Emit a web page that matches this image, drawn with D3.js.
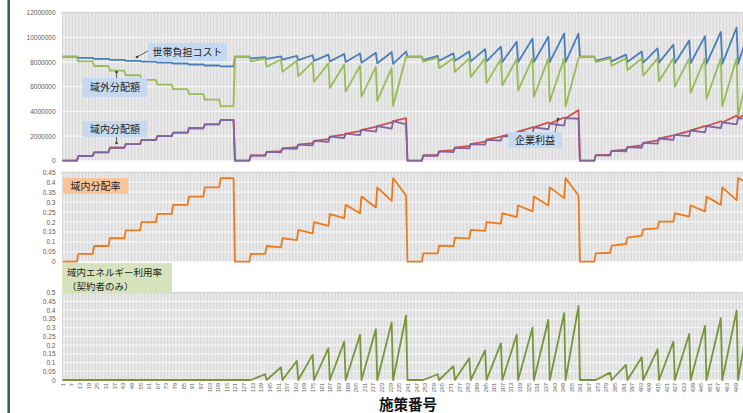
<!DOCTYPE html>
<html>
<head>
<meta charset="utf-8">
<script src="https://cdn.jsdelivr.net/npm/d3@7"></script>
<style>
body { margin: 0; background: #fff; }
svg { display: block; }
</style>
</head>
<body>
<div id="chart"></div>
<script>
// [施策番号, 値] breakpoints
var householdCost = [
  [1,8.43e6],[11,8.43e6],[12,8.33e6],[22,8.33e6],[23,8.26e6],[33,8.26e6],[34,8.18e6],[44,8.18e6],[45,8.1e6],[55,8.1e6],[56,8.03e6],[66,8.03e6],[67,7.95e6],[77,7.95e6],[78,7.88e6],[88,7.88e6],[89,7.8e6],[99,7.8e6],[100,7.72e6],[110,7.72e6],[111,7.65e6],[120,7.65e6],
  [121,8.43e6],[131,8.43e6],[132,8.3e6],[142,8.4e6],[143,8.25e6],[153,8.45e6],[154,8.2e6],[164,8.5e6],[165,8.15e6],[175,8.55e6],[176,8.1e6],[186,8.6e6],[187,8.05e6],[197,8.65e6],[198,8.0e6],[208,8.7e6],[209,7.95e6],[219,8.75e6],[220,7.9e6],[230,8.8e6],[231,7.85e6],[240,8.85e6],
  [241,8.43e6],[251,8.43e6],[252,8.15e6],[262,8.5e6],[263,8.1e6],[273,8.7e6],[274,8.1e6],[284,8.85e6],[285,8.05e6],[295,9.05e6],[296,8.05e6],[306,9.24e6],[307,8.0e6],[317,9.65e6],[318,8.0e6],[328,9.9e6],[329,8.0e6],[339,10.05e6],[340,8.0e6],[350,10.3e6],[351,8.0e6],[360,10.3e6],
  [361,8.43e6],[371,8.43e6],[372,8.1e6],[382,8.4e6],[383,8.05e6],[393,8.6e6],[394,8.0e6],[404,8.85e6],[405,7.95e6],[415,9.1e6],[416,7.95e6],[426,9.4e6],[427,7.9e6],[437,9.75e6],[438,7.9e6],[448,10.1e6],[449,7.85e6],[459,10.45e6],[460,7.85e6],[470,10.8e6],[471,7.85e6],[480,11.1e6]
];
var outsideShare = [
  [1,8.43e6],[11,8.43e6],[12,8.05e6],[22,8.05e6],[23,7.68e6],[33,7.68e6],[34,7.3e6],[44,7.3e6],[45,6.93e6],[55,6.93e6],[56,6.55e6],[66,6.55e6],[67,6.17e6],[77,6.17e6],[78,5.8e6],[88,5.8e6],[89,5.4e6],[99,5.4e6],[100,4.95e6],[110,4.95e6],[111,4.43e6],[120,4.43e6],
  [121,8.43e6],[131,8.43e6],[132,8.05e6],[142,8.3e6],[143,7.62e6],[153,8.2e6],[154,7.2e6],[164,8.1e6],[165,6.85e6],[175,8.0e6],[176,6.4e6],[186,7.9e6],[187,5.9e6],[197,7.8e6],[198,5.6e6],[208,7.7e6],[209,5.2e6],[219,7.6e6],[220,4.85e6],[230,7.5e6],[231,4.43e6],[240,8.4e6],
  [241,8.43e6],[251,8.43e6],[252,8.03e6],[262,8.35e6],[263,7.5e6],[273,8.3e6],[274,7.2e6],[284,8.3e6],[285,6.8e6],[295,8.3e6],[296,6.3e6],[306,8.25e6],[307,6.1e6],[317,8.25e6],[318,5.7e6],[328,8.3e6],[329,5.2e6],[339,8.3e6],[340,4.8e6],[350,8.3e6],[351,4.4e6],[360,8.3e6],
  [361,8.43e6],[371,8.43e6],[372,8.0e6],[382,8.3e6],[383,7.7e6],[393,8.3e6],[394,7.35e6],[404,8.3e6],[405,6.9e6],[415,8.3e6],[416,6.45e6],[426,8.3e6],[427,6.0e6],[437,8.3e6],[438,5.5e6],[448,8.3e6],[449,5.0e6],[459,8.3e6],[460,4.4e6],[470,8.3e6],[471,3.6e6],[480,8.3e6]
];
var companyProfit = [
  [1,0],[11,0],[12,0.38e6],[22,0.38e6],[23,0.68e6],[33,0.68e6],[34,1.05e6],[44,1.05e6],[45,1.35e6],[55,1.35e6],[56,1.68e6],[66,1.68e6],[67,2.0e6],[77,2.0e6],[78,2.27e6],[88,2.27e6],[89,2.63e6],[99,2.63e6],[100,2.95e6],[110,2.95e6],[111,3.3e6],[120,3.3e6],
  [121,0],[131,0],[132,0.42e6],[142,0.45e6],[143,0.72e6],[153,0.78e6],[154,1.0e6],[164,1.1e6],[165,1.3e6],[175,1.42e6],[176,1.6e6],[186,1.75e6],[187,1.95e6],[197,2.12e6],[198,2.2e6],[208,2.4e6],[209,2.5e6],[219,2.75e6],[220,2.8e6],[230,3.1e6],[231,3.2e6],[240,3.45e6],
  [241,0],[251,0],[252,0.42e6],[262,0.48e6],[263,0.75e6],[273,0.85e6],[274,1.05e6],[284,1.2e6],[285,1.35e6],[295,1.55e6],[296,1.7e6],[306,1.95e6],[307,2.0e6],[317,2.3e6],[318,2.35e6],[328,2.7e6],[329,2.7e6],[339,3.1e6],[340,3.0e6],[350,3.5e6],[351,3.45e6],[360,4.1e6],
  [361,0],[371,0],[372,0.45e6],[382,0.5e6],[383,0.8e6],[393,0.9e6],[394,1.1e6],[404,1.25e6],[405,1.45e6],[415,1.65e6],[416,1.8e6],[426,2.05e6],[427,2.1e6],[437,2.4e6],[438,2.45e6],[448,2.8e6],[449,2.8e6],[459,3.2e6],[460,3.1e6],[470,3.65e6],[471,3.45e6],[480,4.0e6]
];
var insideShare = [
  [1,0],[11,0],[12,0.38e6],[22,0.38e6],[23,0.68e6],[33,0.68e6],[34,1.05e6],[44,1.05e6],[45,1.35e6],[55,1.35e6],[56,1.68e6],[66,1.68e6],[67,2.0e6],[77,2.0e6],[78,2.27e6],[88,2.27e6],[89,2.63e6],[99,2.63e6],[100,2.95e6],[110,2.95e6],[111,3.3e6],[120,3.3e6],
  [121,0],[131,0],[132,0.42e6],[142,0.4e6],[143,0.72e6],[153,0.68e6],[154,1.0e6],[164,0.96e6],[165,1.3e6],[175,1.24e6],[176,1.6e6],[186,1.52e6],[187,1.95e6],[197,1.84e6],[198,2.2e6],[208,2.08e6],[209,2.5e6],[219,2.35e6],[220,2.8e6],[230,2.6e6],[231,3.2e6],[240,2.95e6],
  [241,0],[251,0],[252,0.42e6],[262,0.4e6],[263,0.75e6],[273,0.7e6],[274,1.05e6],[284,1.0e6],[285,1.35e6],[295,1.3e6],[296,1.7e6],[306,1.62e6],[307,2.0e6],[317,1.9e6],[318,2.35e6],[328,2.22e6],[329,2.7e6],[339,2.55e6],[340,3.0e6],[350,2.85e6],[351,3.45e6],[360,3.4e6],
  [361,0],[371,0],[372,0.45e6],[382,0.42e6],[383,0.8e6],[393,0.75e6],[394,1.1e6],[404,1.05e6],[405,1.45e6],[415,1.38e6],[416,1.8e6],[426,1.7e6],[427,2.1e6],[437,2.0e6],[438,2.45e6],[448,2.3e6],[449,2.8e6],[459,2.65e6],[460,3.1e6],[470,2.95e6],[471,3.45e6],[480,3.35e6]
];
var insideRate = [
  [1,0],[11,0],[12,0.039],[22,0.039],[23,0.079],[33,0.079],[34,0.118],[44,0.118],[45,0.158],[55,0.158],[56,0.199],[66,0.199],[67,0.241],[77,0.241],[78,0.286],[88,0.286],[89,0.328],[99,0.328],[100,0.374],[110,0.374],[111,0.421],[120,0.421],
  [121,0],[131,0],[132,0.039],[142,0.039],[143,0.079],[153,0.072],[154,0.118],[164,0.109],[165,0.16],[175,0.143],[176,0.199],[186,0.18],[187,0.24],[197,0.219],[198,0.286],[208,0.244],[209,0.328],[219,0.273],[220,0.374],[230,0.306],[231,0.421],[240,0.333],
  [241,0],[251,0],[252,0.042],[262,0.042],[263,0.081],[273,0.078],[274,0.121],[284,0.116],[285,0.16],[295,0.155],[296,0.199],[306,0.192],[307,0.244],[317,0.224],[318,0.283],[328,0.253],[329,0.328],[339,0.283],[340,0.374],[350,0.32],[351,0.421],[360,0.333],
  [361,0],[371,0],[372,0.042],[382,0.045],[383,0.081],[393,0.089],[394,0.121],[404,0.131],[405,0.163],[415,0.168],[416,0.202],[426,0.202],[427,0.244],[437,0.227],[438,0.283],[448,0.253],[449,0.328],[459,0.286],[460,0.374],[470,0.31],[471,0.421],[480,0.385]
];
var energyUse = [
  [1,0],[120,0],
  [121,0],[132,0],[142,0.033],[143,0],[153,0.073],[154,0],[164,0.109],[165,0],[175,0.144],[176,0],[186,0.182],[187,0],[197,0.22],[198,0],[208,0.259],[209,0],[219,0.291],[220,0],[230,0.33],[231,0],[240,0.368],
  [241,0],[252,0],[262,0.033],[263,0],[273,0.08],[274,0],[284,0.125],[285,0],[295,0.169],[296,0],[306,0.21],[307,0],[317,0.259],[318,0],[328,0.3],[329,0],[339,0.345],[340,0],[350,0.383],[351,0],[360,0.425],
  [361,0],[372,0],[382,0.042],[383,0],[393,0.086],[394,0],[404,0.13],[405,0],[415,0.176],[416,0],[426,0.22],[427,0],[437,0.264],[438,0],[448,0.31],[449,0],[459,0.354],[460,0],[470,0.398],[471,0],[480,0.44]
];

var categories = d3.range(1, 481);
var xTickCats = d3.range(1, 470, 6);
var ticks1 = [0, 2e6, 4e6, 6e6, 8e6, 10e6, 12e6];
var ticks2 = [0, 0.05, 0.1, 0.15, 0.2, 0.25, 0.3, 0.35, 0.4, 0.45];
var ticks3 = [0, 0.05, 0.1, 0.15, 0.2, 0.25, 0.3, 0.35, 0.4, 0.45, 0.5];

var width = 743, height = 413;
var svg = d3.select("#chart").append("svg")
  .attr("width", width)
  .attr("height", height);

var x = d3.scaleLinear().domain([1, 480]).range([62.5, 751]);

var jp = "'Noto Sans CJK JP', sans-serif";
var num = "'Liberation Sans', Arial, sans-serif";

var panel = function(top, bottom, ticks, fmt, series) {
  var y = d3.scaleLinear().domain([0, ticks[ticks.length - 1]]).range([bottom, top]);
  var g = svg.append("g");

  // one gridline per category -> the grey banding
  g.append("g").selectAll("line")
    .data(categories)
    .enter().append("line")
      .attr("x1", function(d) { return x(d); })
      .attr("x2", function(d) { return x(d); })
      .attr("y1", top)
      .attr("y2", bottom)
      .attr("stroke", "#d6d6d6")
      .attr("stroke-width", 1);

  g.append("g").selectAll("line")
    .data(ticks)
    .enter().append("line")
      .attr("x1", x(1) - 1)
      .attr("x2", width)
      .attr("y1", function(d) { return y(d); })
      .attr("y2", function(d) { return y(d); })
      .attr("stroke", function(d, i) { return i == ticks.length - 1 ? "#cfcfcf" : "#f6f6f6"; })
      .attr("stroke-width", 1.2);

  var ax = g.append("g")
    .attr("transform", "translate(" + (x(1) - 4) + ",0)")
    .call(d3.axisLeft(y).tickValues(ticks).tickSize(0).tickPadding(3).tickFormat(fmt));
  ax.select(".domain").remove();
  ax.selectAll("text")
    .attr("fill", "#595959")
    .style("font-family", num)
    .style("font-size", "6.5px");

  series.forEach(function(s) {
    g.append("path")
      .datum(s.data)
      .attr("fill", "none")
      .attr("stroke", s.color)
      .attr("stroke-width", 1.8)
      .attr("stroke-linejoin", "round")
      .attr("d", d3.line()
        .x(function(d) { return x(d[0]); })
        .y(function(d) { return y(d[1]); })
      );
  });
  return y;
};

panel(12.7, 160.7, ticks1, d3.format("d"), [
  {data: householdCost, color: "#4a7ebb"},
  {data: outsideShare, color: "#9bbb59"},
  {data: companyProfit, color: "#d0504d"},
  {data: insideShare, color: "#8064a2"}
]);
panel(172.3, 261.7, ticks2, d3.format(".2~f"), [
  {data: insideRate, color: "#ec7a1c"}
]);
panel(292.7, 380, ticks3, d3.format(".2~f"), [
  {data: energyUse, color: "#77963c"}
]);

// x axis labels
var xa = svg.append("g")
  .attr("transform", "translate(0,380)")
  .call(d3.axisBottom(x).tickValues(xTickCats).tickSize(0).tickFormat(d3.format("d")));
xa.select(".domain").remove();
xa.selectAll("text")
  .attr("transform", "rotate(-90)")
  .attr("x", -3)
  .attr("y", 0)
  .attr("dy", "0.35em")
  .style("text-anchor", "end")
  .attr("fill", "#595959")
  .style("font-family", num)
  .style("font-size", "5.6px");

svg.append("text")
  .attr("x", 408)
  .attr("y", 410)
  .attr("text-anchor", "middle")
  .style("font-family", jp)
  .style("font-weight", "bold")
  .style("font-size", "14.5px")
  .attr("fill", "#111")
  .text("施策番号");

// left frame
svg.append("line")
  .attr("x1", 8.7).attr("x2", 8.7)
  .attr("y1", 0).attr("y2", height)
  .attr("stroke", "#2e6273")
  .attr("stroke-width", 2.6);

// callouts
var boxes = [
  {x: 148, y: 43, w: 79, h: 18, fill: "#c5d9f0", lines: ["世帯負担コスト"], ax1: 148, ay1: 51, ax2: 137, ay2: 57},
  {x: 83, y: 78, w: 64, h: 19, fill: "#c5d9f0", lines: ["域外分配額"], ax1: 116.5, ay1: 78, ax2: 116.5, ay2: 72},
  {x: 83, y: 121, w: 64, h: 16, fill: "#c5d9f0", lines: ["域内分配額"], ax1: 116.5, ay1: 137, ax2: 116.5, ay2: 143},
  {x: 508, y: 132, w: 54, h: 16, fill: "#c5d9f0", lines: ["企業利益"], ax1: 555, ay1: 132, ax2: 558, ay2: 119},
  {x: 63, y: 178, w: 65, h: 16, fill: "#fbc39a", lines: ["域内分配率"]},
  {x: 62, y: 263, w: 110, h: 30, fill: "#d6e3bc", lines: ["域内エネルギー利用率", "（契約者のみ）"], left: true}
];

boxes.forEach(function(b) {
  svg.append("rect")
    .attr("x", b.x).attr("y", b.y)
    .attr("width", b.w).attr("height", b.h)
    .attr("fill", b.fill);
  b.lines.forEach(function(t, i) {
    svg.append("text")
      .attr("x", b.left ? b.x + 5 : b.x + b.w / 2)
      .attr("y", b.y + (b.lines.length == 1 ? b.h / 2 + 3.5 : 13 + i * 13.5))
      .attr("text-anchor", b.left ? "start" : "middle")
      .style("font-family", jp)
      .style("font-size", b.lines.length == 1 ? "10px" : "9.5px")
      .attr("fill", "#222")
      .text(t);
  });
  if (b.ax1 != null) {
    svg.append("line")
      .attr("x1", b.ax1).attr("y1", b.ay1)
      .attr("x2", b.ax2).attr("y2", b.ay2)
      .attr("stroke", "#404040")
      .attr("stroke-width", 0.8);
    svg.append("circle")
      .attr("cx", b.ax2).attr("cy", b.ay2)
      .attr("r", 1.3)
      .attr("fill", "#404040");
  }
});
</script>
</body>
</html>
